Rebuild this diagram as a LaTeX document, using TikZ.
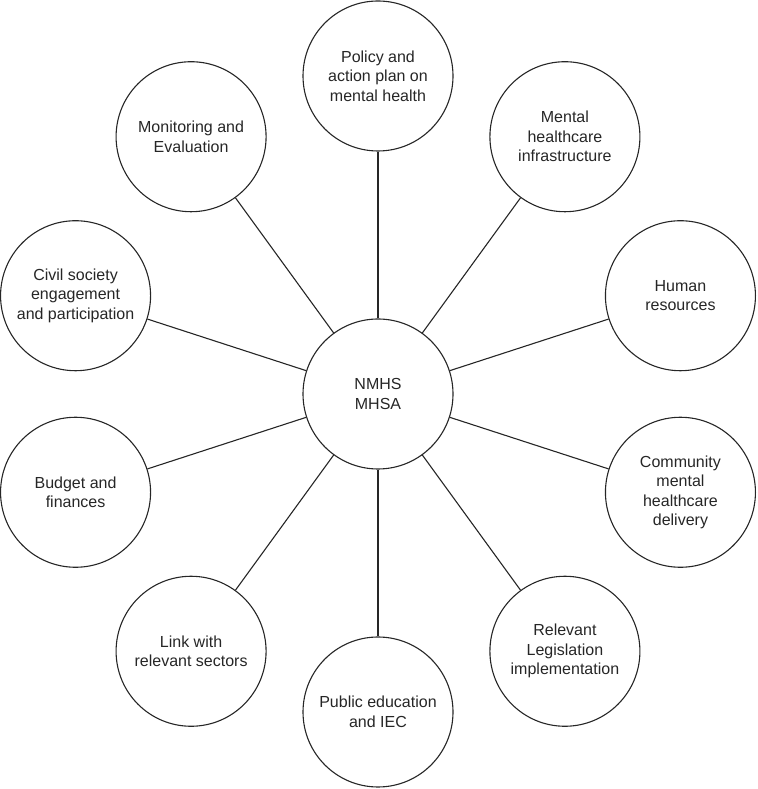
\documentclass[tikz,border=0pt]{standalone}
\usepackage{fontspec}
\setmainfont{Liberation Sans}
\usetikzlibrary{calc}
\begin{document}
\begin{tikzpicture}[x=1pt,y=1pt,
  bubble/.style={draw=black!85, line width=1.1pt, circle, minimum size=150pt, inner sep=0pt,
    align=center, font=\fontsize{16}{19.5}\selectfont, text=black!85},
  link/.style={draw=black!85, line width=1.1pt}]
\useasboundingbox (0,0) rectangle (757,789);
\coordinate (c0) at (378,395);
\node[bubble] (c) at (c0) {NMHS\\MHSA};
\node[bubble] (n1) at ($(c0)+(90:318pt)$) {Policy and\\action plan on\\mental health};
\node[bubble] (n2) at ($(c0)+(54:318pt)$) {Mental\\healthcare\\infrastructure};
\node[bubble] (n3) at ($(c0)+(18:318pt)$) {Human\\resources};
\node[bubble] (n4) at ($(c0)+(-18:318pt)$) {Community\\mental\\healthcare\\delivery};
\node[bubble] (n5) at ($(c0)+(-54:318pt)$) {Relevant\\Legislation\\implementation};
\node[bubble] (n6) at ($(c0)+(-90:318pt)$) {Public education\\and IEC};
\node[bubble] (n7) at ($(c0)+(-126:318pt)$) {Link with\\relevant sectors};
\node[bubble] (n8) at ($(c0)+(-162:318pt)$) {Budget and\\finances};
\node[bubble] (n9) at ($(c0)+(162:318pt)$) {Civil society\\engagement\\and participation};
\node[bubble] (n10) at ($(c0)+(126:318pt)$) {Monitoring and\\Evaluation};
\foreach \i in {1,...,10} {\draw[link] (c) -- (n\i);}
\end{tikzpicture}
\end{document}
